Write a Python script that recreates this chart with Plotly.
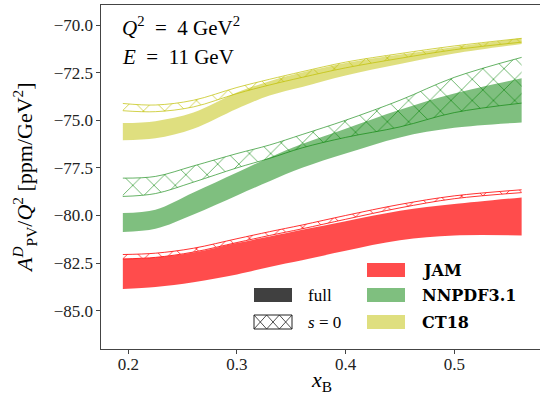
import plotly.graph_objects as go

# ---------------- data ----------------
x_B = [0.195, 0.225, 0.26, 0.30, 0.33, 0.36, 0.40, 0.45, 0.50, 0.562]

jam_full_lo = [-83.86, -83.75, -83.50, -83.10, -82.70, -82.35, -81.85, -81.30, -81.05, -81.05]
jam_full_hi = [-82.29, -82.20, -81.95, -81.45, -81.10, -80.75, -80.30, -79.75, -79.40, -79.05]
jam_s0_lo = [-82.28, -82.20, -81.92, -81.42, -81.05, -80.70, -80.20, -79.60, -79.12, -78.80]
jam_s0_hi = [-82.05, -81.98, -81.72, -81.22, -80.85, -80.50, -80.00, -79.42, -78.97, -78.65]

nn_full_lo = [-80.87, -80.70, -79.95, -78.95, -78.20, -77.50, -76.75, -75.90, -75.40, -75.12]
nn_full_hi = [-79.87, -79.70, -78.80, -77.75, -76.95, -76.25, -75.45, -74.45, -73.60, -72.80]
nn_s0_lo = [-79.00, -78.85, -78.25, -77.50, -77.00, -76.45, -75.90, -75.35, -74.60, -74.10]
nn_s0_hi = [-78.04, -77.95, -77.40, -76.75, -76.30, -75.75, -75.00, -73.95, -72.75, -71.70]

ct_full_lo = [-76.05, -75.95, -75.45, -74.40, -73.70, -73.25, -72.65, -72.05, -71.50, -71.00]
ct_full_hi = [-75.15, -75.05, -74.60, -73.55, -72.95, -72.50, -72.00, -71.55, -71.15, -70.70]
ct_s0_lo = [-74.50, -74.55, -74.30, -73.60, -73.15, -72.75, -72.25, -71.75, -71.30, -70.90]
ct_s0_hi = [-74.12, -74.20, -73.95, -73.28, -72.85, -72.45, -71.95, -71.50, -71.10, -70.70]

x_ticks = [0.2, 0.3, 0.4, 0.5]
x_tick_labels = ["0.2", "0.3", "0.4", "0.5"]
y_ticks = [-85.0, -82.5, -80.0, -77.5, -75.0, -72.5, -70.0]
y_tick_labels = ["\u221285.0", "\u221282.5", "\u221280.0", "\u221277.5", "\u221275.0", "\u221272.5", "\u221270.0"]

pdf_names = ["JAM", "NNPDF3.1", "CT18"]

# ---------------- styling ----------------
W, H = 540, 398
L, R, T, B = 101, 0, 5, 49
FONT = "Liberation Serif, DejaVu Serif, serif"
NB = "\u00a0"

fills = {"JAM": "rgba(255,0,0,0.7)", "NNPDF3.1": "rgba(0,128,0,0.5)", "CT18": "rgba(191,191,0,0.5)"}
hatch = {"JAM": "rgba(255,0,0,0.8)", "NNPDF3.1": "rgba(0,128,0,0.6)", "CT18": "rgba(191,191,0,0.7)"}

fig = go.Figure()


def band(lo, hi, name, hatched):
    if hatched:
        c = hatch[name]
        fig.add_trace(go.Scatter(x=x_B, y=lo, mode="lines", line=dict(color=c, width=1, shape="spline"),
                                 showlegend=False, hoverinfo="skip"))
        fig.add_trace(go.Scatter(x=x_B, y=hi, mode="lines", line=dict(color=c, width=1, shape="spline"),
                                 fill="tonexty", fillcolor="rgba(255,255,255,0)",
                                 fillpattern=dict(shape="x", fgcolor=c, fgopacity=1,
                                                  bgcolor="rgba(255,255,255,0)", size=15, solidity=0.12),
                                 showlegend=False, hoverinfo="skip"))
    else:
        c = fills[name]
        fig.add_trace(go.Scatter(x=x_B, y=lo, mode="lines", line=dict(color=c, width=0, shape="spline"),
                                 showlegend=False, hoverinfo="skip"))
        fig.add_trace(go.Scatter(x=x_B, y=hi, mode="lines", line=dict(color=c, width=0, shape="spline"),
                                 fill="tonexty", fillcolor=c, showlegend=False, hoverinfo="skip"))


band(jam_full_lo, jam_full_hi, "JAM", False)
band(nn_full_lo, nn_full_hi, "NNPDF3.1", False)
band(ct_full_lo, ct_full_hi, "CT18", False)
band(jam_s0_lo, jam_s0_hi, "JAM", True)
band(nn_s0_lo, nn_s0_hi, "NNPDF3.1", True)
band(ct_s0_lo, ct_s0_hi, "CT18", True)

pw, ph = W - L - R, H - T - B


def px(xp):
    return (xp - L) / pw


def py(yp):
    return (H - B - yp) / ph


shapes = []
annotations = []

shapes.append(dict(type="rect", xref="paper", yref="paper", x0=px(254), x1=px(292), y0=py(302), y1=py(288),
                   fillcolor="#404040", line=dict(width=0)))
shapes.append(dict(type="rect", xref="paper", yref="paper", x0=px(254), x1=px(292), y0=py(329), y1=py(315),
                   fillcolor="white", line=dict(color="#222", width=1)))
cell = 12.67
path = ""
for k in range(3):
    xa = 254 + k * cell
    xb = xa + cell
    path += f"M{px(xa)},{py(315)} L{px(xb)},{py(329)} M{px(xa)},{py(329)} L{px(xb)},{py(315)} "
shapes.append(dict(type="path", xref="paper", yref="paper", path=path, line=dict(color="#222", width=0.8)))

annotations.append(dict(text="full", xref="paper", yref="paper", x=px(306), y=py(295), xanchor="left",
                        yanchor="middle", showarrow=False, font=dict(family=FONT, size=17, color="black")))
annotations.append(dict(text=f"<i>s</i>{NB}={NB}0", xref="paper", yref="paper", x=px(306), y=py(322),
                        xanchor="left", yanchor="middle", showarrow=False,
                        font=dict(family=FONT, size=17, color="black")))

for name, ymid in zip(pdf_names, [270, 295, 322]):
    shapes.append(dict(type="rect", xref="paper", yref="paper", x0=px(367), x1=px(405), y0=py(ymid + 7),
                       y1=py(ymid - 7), fillcolor=fills[name], line=dict(width=0)))
    annotations.append(dict(text=f"<b>{name}</b>", xref="paper", yref="paper", x=px(420), y=py(ymid),
                            xanchor="left", yanchor="middle", showarrow=False,
                            font=dict(family="DejaVu Serif", size=16, color="black")))

annotations.append(dict(text=f"<i>Q</i><sup>2</sup>{NB*2}={NB*2}4{NB}GeV<sup>2</sup>", xref="paper", yref="paper",
                        x=px(120), y=py(26), xanchor="left", yanchor="middle", showarrow=False,
                        font=dict(family=FONT, size=21, color="black")))
annotations.append(dict(text=f"<i>E</i>{NB*2}={NB*2}11{NB}GeV", xref="paper", yref="paper",
                        x=px(120), y=py(57), xanchor="left", yanchor="middle", showarrow=False,
                        font=dict(family=FONT, size=21, color="black")))

annotations.append(dict(text="<i>A</i><sup><i>D</i></sup><sub>PV</sub>/<i>Q</i><sup>2</sup> [ppm/GeV<sup>2</sup>]",
                        xref="paper", yref="paper", x=px(24), y=py(178), xanchor="center", yanchor="middle",
                        textangle=-90, showarrow=False, font=dict(family=FONT, size=22, color="black")))
annotations.append(dict(text="<i>x</i><sub>B</sub>", xref="paper", yref="paper", x=px(321), y=py(397),
                        xanchor="center", yanchor="bottom", showarrow=False,
                        font=dict(family=FONT, size=22, color="black")))

fig.update_layout(
    width=W, height=H,
    margin=dict(l=L, r=R, t=T, b=B, pad=0),
    paper_bgcolor="white", plot_bgcolor="white",
    font=dict(family=FONT, color="#222"),
    showlegend=False,
    shapes=shapes, annotations=annotations,
    xaxis=dict(range=[0.1749, 0.5789], tickvals=x_ticks, ticktext=x_tick_labels,
               showgrid=False, zeroline=False, showline=True, linecolor="#444", linewidth=1.2,
               mirror=True, ticks="outside", ticklen=3.5, tickcolor="#444", tickwidth=1,
               ticklabelstandoff=-4,
               tickfont=dict(family=FONT, size=17, color="#222")),
    yaxis=dict(range=[-87.01, -68.95], tickvals=y_ticks, ticktext=y_tick_labels,
               showgrid=False, zeroline=False, showline=True, linecolor="#444", linewidth=1.2,
               mirror=False, ticks="outside", ticklen=3.5, tickcolor="#444", tickwidth=1,
               tickfont=dict(family=FONT, size=17, color="#222")),
)

fig.write_html("out.html", config={"displayModeBar": False},
               post_script="document.body.style.margin='0';document.body.style.overflow='hidden';")
